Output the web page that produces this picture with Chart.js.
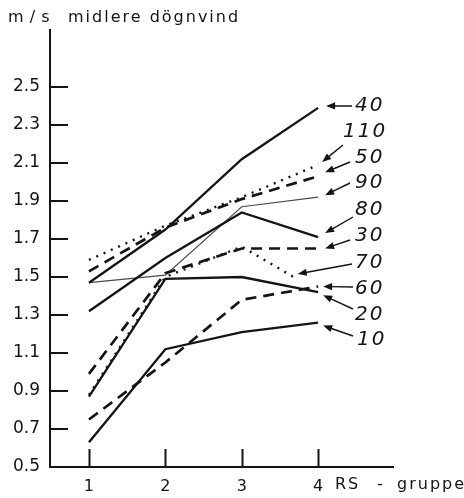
<!DOCTYPE html>
<html>
<head>
<meta charset="utf-8">
<script src="https://cdn.jsdelivr.net/npm/chart.js@4/dist/chart.umd.min.js"></script>
<style>
  html, body { margin: 0; padding: 0; background: #fff; }
  #wrap { width: 464px; height: 498px; }
</style>
</head>
<body>
<div id="wrap"><canvas id="c" width="464" height="498"></canvas></div>
<script>
// RS groups on the x axis and the y tick values (m/s)
const rsGroups = [1, 2, 3, 4];
const rsGroups70 = [1, 2, 3, 3.72];
const yTickValues = [0.5, 0.7, 0.9, 1.1, 1.3, 1.5, 1.7, 1.9, 2.1, 2.3, 2.5];

// mean daily wind per series
const s10  = [0.63, 1.12, 1.21, 1.26];
const s20  = [0.87, 1.49, 1.50, 1.42];
const s30  = [0.99, 1.52, 1.65, 1.65];
const s40  = [1.47, 1.75, 2.12, 2.39];
const s50  = [1.53, 1.76, 1.91, 2.03];
const s60  = [0.75, 1.05, 1.38, 1.45];
const s70  = [0.88, 1.50, 1.66, 1.49];
const s80  = [1.32, 1.60, 1.84, 1.71];
const s90  = [1.47, 1.51, 1.87, 1.92];
const s110 = [1.59, 1.77, 1.92, 2.09];

const INK = '#141414';
const STYLES = {
  solid:  { borderWidth: 2.3, borderDash: [], borderColor: INK },
  thin:   { borderWidth: 1.2, borderDash: [], borderColor: '#4a4a4a' },
  dashed: { borderWidth: 2.7, borderDash: [11, 7], borderColor: INK },
  dotted: { borderWidth: 2.4, borderDash: [2, 6], borderColor: INK }
};

function series(label, xs, ys, style) {
  return Object.assign({
    label,
    data: ys.map((y, i) => ({ x: xs[i], y })),
    pointRadius: 0,
    fill: false,
    tension: 0,
    borderCapStyle: 'butt',
    borderJoinStyle: 'miter'
  }, STYLES[style]);
}

const datasets = [
  series('10', rsGroups, s10, 'solid'),
  series('20', rsGroups, s20, 'solid'),
  series('30', rsGroups, s30, 'dashed'),
  series('40', rsGroups, s40, 'solid'),
  series('50', rsGroups, s50, 'dashed'),
  series('60', rsGroups, s60, 'dashed'),
  series('70', rsGroups70, s70, 'dotted'),
  series('80', rsGroups, s80, 'solid'),
  series('90', rsGroups, s90, 'thin'),
  series('110', rsGroups, s110, 'dotted')
];

// placement of the series names at the right and their arrows
const callouts = {
  '40':  { text: [355, 106], tail: [352, 106], tip: [8, -2] },
  '110': { text: [343, 132], tail: [343, 145], tip: [4, -3] },
  '50':  { text: [355, 158], tail: [350, 162], tip: [7, -4] },
  '90':  { text: [355, 183], tail: [350, 183], tip: [7, -2] },
  '80':  { text: [355, 210], tail: [353, 217], tip: [7, -4] },
  '30':  { text: [355, 236], tail: [350, 240], tip: [7, 0] },
  '70':  { text: [355, 263], tail: [352, 264], tip: [1, -5] },
  '60':  { text: [355, 289], tail: [353, 287], tip: [5, 0] },
  '20':  { text: [355, 315], tail: [353, 309], tip: [5, 3] },
  '10':  { text: [357, 340], tail: [353, 336], tip: [5, 3] }
};

function arrow(ctx, x0, y0, x1, y1) {
  const a = Math.atan2(y1 - y0, x1 - x0);
  const L = 9, W = 3.6;
  ctx.beginPath();
  ctx.moveTo(x0, y0);
  ctx.lineTo(x1 - Math.cos(a) * (L - 1), y1 - Math.sin(a) * (L - 1));
  ctx.stroke();
  ctx.beginPath();
  ctx.moveTo(x1, y1);
  ctx.lineTo(x1 - L * Math.cos(a) + W * Math.sin(a), y1 - L * Math.sin(a) - W * Math.cos(a));
  ctx.lineTo(x1 - L * Math.cos(a) - W * Math.sin(a), y1 - L * Math.sin(a) + W * Math.cos(a));
  ctx.closePath();
  ctx.fill();
}

const decor = {
  id: 'decor',
  beforeDraw(chart) {
    const ctx = chart.ctx;
    ctx.save();
    ctx.fillStyle = '#fff';
    ctx.fillRect(0, 0, chart.width, chart.height);
    ctx.restore();
  },
  afterDraw(chart) {
    const ctx = chart.ctx;
    const xs = chart.scales.x, ys = chart.scales.y;
    const area = chart.chartArea;
    ctx.save();
    ctx.strokeStyle = INK;
    ctx.fillStyle = INK;

    // inward tick marks
    ctx.lineWidth = 2;
    yTickValues.forEach(v => {
      if (v === ys.min) return;
      const y = Math.round(ys.getPixelForValue(v));
      ctx.beginPath();
      ctx.moveTo(area.left, y);
      ctx.lineTo(area.left + 18, y);
      ctx.stroke();
    });
    rsGroups.forEach(v => {
      const x = Math.round(xs.getPixelForValue(v)) + 0.5;
      ctx.beginPath();
      ctx.moveTo(x, area.bottom);
      ctx.lineTo(x, area.bottom - 18);
      ctx.stroke();
    });

    // axis titles
    ctx.textBaseline = 'alphabetic';
    ctx.textAlign = 'left';
    ctx.font = '16px "DejaVu Sans"';
    ctx.letterSpacing = '0.5px';
    ctx.fillText('m / s', 8, 22);
    ctx.letterSpacing = '2px';
    ctx.fillText('midlere dögnvind', 68, 22);
    ctx.textBaseline = 'middle';
    ctx.fillText('RS', 335, 485);
    ctx.fillText('-', 377, 485);
    ctx.fillText('gruppe', 397, 485);

    // series names with arrows to line ends
    ctx.font = 'italic 20px "DejaVu Sans"';
    ctx.letterSpacing = '2px';
    ctx.lineWidth = 1.4;
    chart.data.datasets.forEach((ds, i) => {
      const c = callouts[ds.label];
      if (!c) return;
      const pts = chart.getDatasetMeta(i).data;
      const end = pts[pts.length - 1];
      const tx = end.x + c.tip[0], ty = end.y + c.tip[1];
      arrow(ctx, c.tail[0], c.tail[1], tx, ty);
      ctx.fillText(ds.label, c.text[0], c.text[1]);
    });
    ctx.letterSpacing = '0px';
    ctx.restore();
  }
};

new Chart(document.getElementById('c'), {
  type: 'line',
  data: { datasets },
  plugins: [decor],
  options: {
    responsive: false,
    animation: false,
    layout: { padding: { top: 30, right: 71, left: 0, bottom: 0 } },
    plugins: { legend: { display: false }, tooltip: { enabled: false } },
    scales: {
      x: {
        type: 'linear',
        min: 0.49,
        max: 4.98,
        afterFit(s) { s.height = 31; },
        afterBuildTicks(s) { s.ticks = rsGroups.map(v => ({ value: v })); },
        grid: { display: false, drawTicks: false },
        border: { display: true, color: INK, width: 2 },
        ticks: {
          padding: 10,
          color: INK,
          font: { family: 'DejaVu Sans', size: 16 },
          callback: v => String(v)
        }
      },
      y: {
        type: 'linear',
        min: 0.5,
        max: 2.8,
        afterFit(s) { s.width = 50; },
        afterBuildTicks(s) { s.ticks = yTickValues.map(v => ({ value: v })); },
        grid: { display: false, drawTicks: false },
        border: { display: true, color: INK, width: 2 },
        ticks: {
          padding: 10,
          color: INK,
          font: { family: 'DejaVu Sans', size: 17 },
          callback: v => Number(v).toFixed(1)
        }
      }
    }
  }
});
</script>
</body>
</html>
